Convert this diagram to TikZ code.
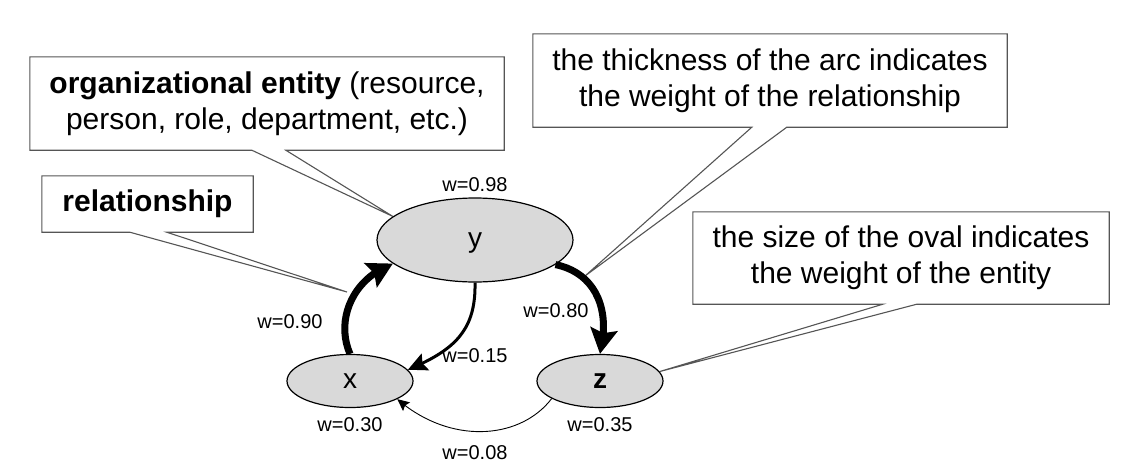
\documentclass[tikz,border=0pt]{standalone}
\usepackage{fontspec}
\setmainfont{Liberation Sans}
\usetikzlibrary{arrows.meta,bending,calc,shapes.geometric,backgrounds}
\definecolor{ovalfill}{RGB}{217,217,217}
\definecolor{boxline}{RGB}{85,85,85}
\begin{document}
\begin{tikzpicture}[x=1pt,y=-1pt,
  oval/.style={ellipse, draw=black, line width=1.2pt, fill=ovalfill, inner sep=0pt, font=\fontsize{28}{32}\selectfont},
  wlab/.style={inner sep=0pt, font=\fontsize{20}{24}\selectfont},
  cbox/.style={inner sep=0pt, align=center, font=\fontsize{30}{36}\selectfont},
  cline/.style={draw=boxline, line width=1.1pt, fill=white, line join=miter},
  bigarc/.style={line width=7pt, -{Stealth[length=25pt,width=27pt,inset=4pt]}},
  midarc/.style={line width=3pt, -{Stealth[length=19pt,width=18pt,inset=3pt]}},
  thinarc/.style={line width=0.9pt, -{Stealth[length=12pt,width=11pt,inset=2pt]}}
]
\useasboundingbox (0,0) rectangle (1124,474);

% callout texts
\node[cbox, minimum width=474pt, minimum height=93pt] (c1) at (267,103.5)
  {\textbf{organizational entity} (resource,\\person, role, department, etc.)};
\node[cbox, minimum width=211pt, minimum height=56pt] (c2) at (147.5,204)
  {\textbf{relationship}};
\node[cbox, minimum width=474pt, minimum height=93pt] (c3) at (770,80.5)
  {the thickness of the arc indicates\\the weight of the relationship};
\node[cbox, minimum width=416pt, minimum height=92pt] (c4) at (901,258)
  {the size of the oval indicates\\the weight of the entity};

% ovals
\node[oval, minimum width=196pt, minimum height=84pt, text depth=0pt] (y) at (475,240) {y};
\node[oval, minimum width=126pt, minimum height=53pt] (x) at (350,381) {x};
\node[oval, minimum width=126pt, minimum height=53pt] (z) at (600,381) {\textbf{z}};

\coordinate (t2) at (347,292);
\coordinate (t3) at (585,276);

% callout outlines behind texts and ovals
\begin{pgfonlayer}{background}
\path[cline] (c1.north west) -- (c1.north east) -- (c1.south east)
  -- ($(c1.south west)+(256,0)$) -- (y.164) -- ($(c1.south west)+(222,0)$)
  -- (c1.south west) -- cycle;
\path[cline] (c2.north west) -- (c2.north east) -- (c2.south east)
  -- ($(c2.south west)+(125,0)$) -- (t2) -- ($(c2.south west)+(88,0)$)
  -- (c2.south west) -- cycle;
\path[cline] (c3.north west) -- (c3.north east) -- (c3.south east)
  -- ($(c3.south west)+(254,0)$) -- (t3) -- ($(c3.south west)+(219,0)$)
  -- (c3.south west) -- cycle;
\path[cline] (c4.north west) -- (c4.north east) -- (c4.south east)
  -- ($(c4.south west)+(224,0)$) -- (z.9) -- ($(c4.south west)+(190,0)$)
  -- (c4.south west) -- cycle;
\end{pgfonlayer}

% arcs
\draw[bigarc] (x.north) .. controls (336,322) and (350,280) .. (y.196);
\draw[bigarc] (y.-17) .. controls (592,272) and (612,305) .. (z.north);
\draw[midarc] (y.south) .. controls (476,330) and (455,350) .. (x.11);
\draw[thinarc] (z.200) .. controls (520,440) and (450,445) .. (x.-21);

% weights
\node[wlab] (l98) at (475,185) {w=0.98};
\node[wlab] (l90) at (290,322) {w=0.90};
\node[wlab] (l15) at (475,356) {w=0.15};
\node[wlab] (l80) at (556,311) {w=0.80};
\node[wlab] (l30) at (350,425) {w=0.30};
\node[wlab] (l35) at (600,425) {w=0.35};
\node[wlab] (l08) at (475,453) {w=0.08};
\end{tikzpicture}
\end{document}
